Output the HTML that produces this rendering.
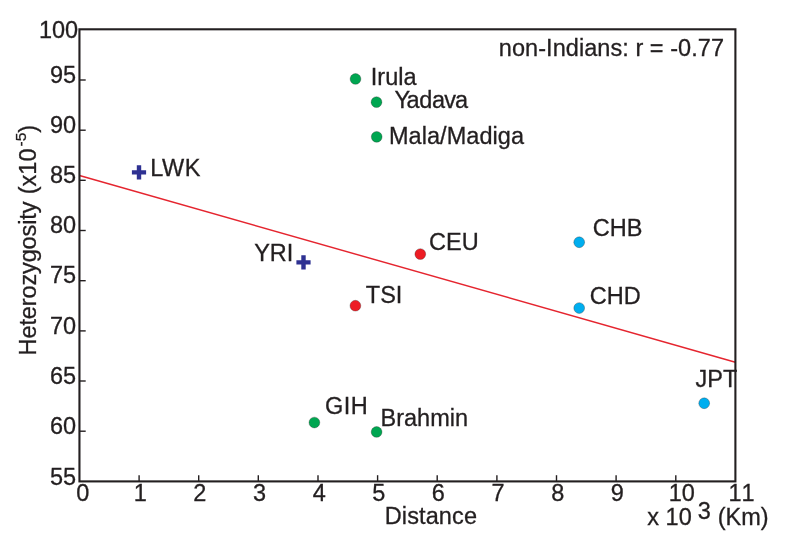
<!DOCTYPE html>
<html><head><meta charset="utf-8"><title>Heterozygosity vs Distance</title>
<style>html,body{margin:0;padding:0;background:#fff}body{width:785px;height:551px;overflow:hidden}</style></head>
<body>
<svg width="785" height="551" viewBox="0 0 785 551" style="display:block">
<rect width="785" height="551" fill="#fff"/>
<line x1="79.45" y1="175.5" x2="735.4" y2="362.3" stroke="#e5252f" stroke-width="1.45"/>
<line x1="139.1" y1="481.4" x2="139.1" y2="475.2" stroke="#231f20" stroke-width="1.4"/>
<line x1="198.7" y1="481.4" x2="198.7" y2="475.2" stroke="#231f20" stroke-width="1.4"/>
<line x1="258.3" y1="481.4" x2="258.3" y2="475.2" stroke="#231f20" stroke-width="1.4"/>
<line x1="318.0" y1="481.4" x2="318.0" y2="475.2" stroke="#231f20" stroke-width="1.4"/>
<line x1="377.6" y1="481.4" x2="377.6" y2="475.2" stroke="#231f20" stroke-width="1.4"/>
<line x1="437.2" y1="481.4" x2="437.2" y2="475.2" stroke="#231f20" stroke-width="1.4"/>
<line x1="496.9" y1="481.4" x2="496.9" y2="475.2" stroke="#231f20" stroke-width="1.4"/>
<line x1="556.5" y1="481.4" x2="556.5" y2="475.2" stroke="#231f20" stroke-width="1.4"/>
<line x1="616.1" y1="481.4" x2="616.1" y2="475.2" stroke="#231f20" stroke-width="1.4"/>
<line x1="675.8" y1="481.4" x2="675.8" y2="475.2" stroke="#231f20" stroke-width="1.4"/>
<line x1="79.45" y1="431.2" x2="85.7" y2="431.2" stroke="#231f20" stroke-width="1.4"/>
<line x1="79.45" y1="381.0" x2="85.7" y2="381.0" stroke="#231f20" stroke-width="1.4"/>
<line x1="79.45" y1="330.9" x2="85.7" y2="330.9" stroke="#231f20" stroke-width="1.4"/>
<line x1="79.45" y1="280.7" x2="85.7" y2="280.7" stroke="#231f20" stroke-width="1.4"/>
<line x1="79.45" y1="230.5" x2="85.7" y2="230.5" stroke="#231f20" stroke-width="1.4"/>
<line x1="79.45" y1="180.3" x2="85.7" y2="180.3" stroke="#231f20" stroke-width="1.4"/>
<line x1="79.45" y1="130.2" x2="85.7" y2="130.2" stroke="#231f20" stroke-width="1.4"/>
<line x1="79.45" y1="80.0" x2="85.7" y2="80.0" stroke="#231f20" stroke-width="1.4"/>
<rect x="79.45" y="29.3" width="655.95" height="452.1" fill="none" stroke="#231f20" stroke-width="2.1"/>
<g font-family="&quot;Liberation Sans&quot;, Arial, Helvetica, sans-serif" font-size="23.5" fill="#231f20" stroke="#231f20" stroke-width="0.3">
<g style="font-kerning:none">
<text x="76.1" y="484.9" text-anchor="end">55</text>
<text x="76.1" y="433.9" text-anchor="end">60</text>
<text x="76.1" y="383.7" text-anchor="end">65</text>
<text x="76.1" y="333.6" text-anchor="end">70</text>
<text x="76.1" y="283.4" text-anchor="end">75</text>
<text x="76.1" y="233.2" text-anchor="end">80</text>
<text x="76.1" y="183.0" text-anchor="end">85</text>
<text x="76.1" y="132.9" text-anchor="end">90</text>
<text x="76.1" y="82.7" text-anchor="end">95</text>
<text x="78.1" y="38.3" text-anchor="end">100</text>
<text x="82.8" y="500.7" text-anchor="middle">0</text>
<text x="140.3" y="500.7" text-anchor="middle">1</text>
<text x="199.9" y="500.7" text-anchor="middle">2</text>
<text x="259.5" y="500.7" text-anchor="middle">3</text>
<text x="319.2" y="500.7" text-anchor="middle">4</text>
<text x="378.8" y="500.7" text-anchor="middle">5</text>
<text x="438.4" y="500.7" text-anchor="middle">6</text>
<text x="498.1" y="500.7" text-anchor="middle">7</text>
<text x="557.7" y="500.7" text-anchor="middle">8</text>
<text x="617.3" y="500.7" text-anchor="middle">9</text>
<text x="681.7" y="500.7" text-anchor="middle">10</text>
<text x="741.5" y="500.7" text-anchor="middle">11</text>
</g>
<text x="498.8" y="56.2" textLength="225.2" lengthAdjust="spacing">non-Indians: r = -0.77</text>
<text x="384.7" y="524.0" textLength="92.3" lengthAdjust="spacing">Distance</text>
<text x="647.3" y="524.7">x 10</text>
<text x="697.8" y="518.9">3</text>
<text x="717.7" y="524.7">(Km)</text>
<g transform="translate(36.1,355.4) rotate(-90)"><text x="0" y="0" textLength="153.8" lengthAdjust="spacing">Heterozygosity</text><text x="161.2" y="0">(x10</text><text x="209.0" y="-10.0" font-size="15.5">-5</text><text x="222.6" y="0">)</text></g>
<circle cx="355.5" cy="78.95" r="5.4" fill="#00a651"/>
<text x="370.8" y="85.4">Irula</text>
<circle cx="376.5" cy="102.15" r="5.4" fill="#00a651"/>
<text x="394.6" y="107.8">Y<tspan dx="-2.0">a</tspan><tspan dx="-0.4">d</tspan><tspan dx="-0.4">a</tspan><tspan dx="-0.8">v</tspan><tspan dx="-0.8">a</tspan></text>
<circle cx="376.7" cy="136.85" r="5.4" fill="#00a651"/>
<text x="389.0" y="143.9" textLength="135.0" lengthAdjust="spacing">Mala/Madiga</text>
<circle cx="420.3" cy="254.1" r="5.4" fill="#ed1c24"/>
<text x="429.0" y="249.6">CEU</text>
<circle cx="355.4" cy="305.7" r="5.4" fill="#ed1c24"/>
<text x="365.8" y="303.4">TSI</text>
<circle cx="579.2" cy="242.25" r="5.4" fill="#00aeef"/>
<text x="592.7" y="235.9">CHB</text>
<circle cx="579.2" cy="308.05" r="5.4" fill="#00aeef"/>
<text x="589.8" y="304.4">CHD</text>
<circle cx="704.2" cy="403.25" r="5.4" fill="#00aeef"/>
<text x="695.6" y="386.7">JPT</text>
<circle cx="314.4" cy="422.55" r="5.4" fill="#00a651"/>
<text x="325.0" y="414.3" textLength="42.7" lengthAdjust="spacing">GIH</text>
<circle cx="376.6" cy="431.95" r="5.4" fill="#00a651"/>
<text x="380.6" y="426.4" textLength="87.4" lengthAdjust="spacing">Brahmin</text>
<path d="M131.9 172.4H146.1M139.0 165.3V179.5" stroke="#2e3192" stroke-width="4.4" fill="none"/>
<text x="150.3" y="175.7" textLength="50.1" lengthAdjust="spacing">LWK</text>
<path d="M296.4 262.4H310.6M303.5 255.3V269.5" stroke="#2e3192" stroke-width="4.4" fill="none"/>
<text x="254.2" y="260.7">YRI</text>
</g></svg>
</body></html>
